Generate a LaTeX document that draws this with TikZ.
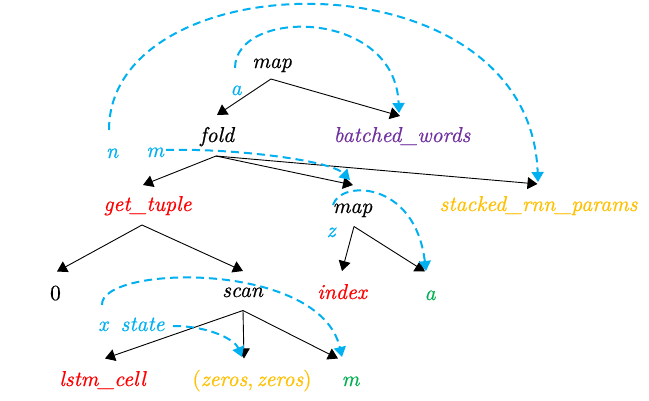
\documentclass[tikz,border=0pt]{standalone}
\usepackage{fontspec}
\newfontfamily\lblfont{lmroman10-italic.otf}[FakeBold=0.6]
\newfontfamily\lblup{lmroman10-regular.otf}[FakeBold=0.6]
\usetikzlibrary{arrows.meta}
\definecolor{cyn}{RGB}{0,176,240}
\definecolor{rd}{RGB}{255,0,0}
\definecolor{pur}{RGB}{112,48,160}
\definecolor{yel}{RGB}{255,192,0}
\definecolor{grn}{RGB}{0,176,80}
\tikzset{
  lbl/.style={anchor=base, inner sep=0pt, font=\lblfont\fontsize{21.5}{26}\selectfont},
  edge/.style={-{Triangle[length=10pt,width=12pt]}, line width=0.9pt, black},
  flow/.style={-{Triangle[length=10pt,width=12pt]}, line width=2pt, cyn, dash pattern=on 8pt off 5pt},
}
\begin{document}
\begin{tikzpicture}[x=1pt,y=-1pt]
\useasboundingbox (0,0) rectangle (649,400);
% labels
\node[lbl] (map1) at (272,68) {map};
\node[lbl] (fold) at (217,142) {fold};
\node[lbl,text=pur] (batched) at (402,142) {batched\_words};
\node[lbl,text=cyn] (la) at (236,95) {a};
\node[lbl,text=cyn] (ln) at (112,158) {n};
\node[lbl,text=cyn] (lm) at (155,157) {m};
\node[lbl,text=rd] (gettuple) at (147.5,211) {get\_tuple};
\node[lbl,text=yel] (stacked) at (538.5,211) {stacked\_rnn\_params};
\node[lbl] (map2) at (352.5,213) {map};
\node[lbl,text=cyn] (lz) at (331,237) {z};
\node[lbl] (zero) at (55.5,300) {\lblup 0};
\node[lbl] (scan) at (242.5,297) {scan};
\node[lbl,text=rd] (index) at (342,299) {index};
\node[lbl,text=grn] (a2) at (430,300) {a};
\node[lbl,text=cyn] (lx) at (103,331) {x};
\node[lbl,text=cyn] (lstate) at (142.5,331) {state};
\node[lbl,text=rd] (lstm) at (102.5,386) {lstm\_cell};
\node[lbl,text=yel] (zeros) at (252,386) {{\lblup(}zeros{\lblup,}\,zeros{\lblup)}};
\node[lbl,text=grn] (m2) at (350.5,386) {m};
% junction and tip coordinates
\coordinate (mapJ) at (271,79);
\coordinate (foldT) at (217,115);
\coordinate (batT) at (400,116);
\coordinate (foldJ) at (216,156);
\coordinate (gtT) at (143,185);
\coordinate (map2T) at (353,185);
\coordinate (stT) at (537.5,184);
\coordinate (gtJ) at (142,225);
\coordinate (zeroT) at (57,271.5);
\coordinate (scanT) at (243,271);
\coordinate (map2J) at (354,226.5);
\coordinate (indexT) at (342,271);
\coordinate (a2T) at (425,271.5);
\coordinate (scanJ) at (243,310.5);
\coordinate (lstmT) at (105,358.5);
\coordinate (zerosT) at (244,358.5);
\coordinate (m2T) at (338,358.5);
% tree edges
\draw[edge] (mapJ) -- (foldT);
\draw[edge] (mapJ) -- (batT);
\draw[edge] (foldJ) -- (gtT);
\draw[edge] (foldJ) -- (map2T);
\draw[edge] (foldJ) -- (stT);
\draw[edge] (gtJ) -- (zeroT);
\draw[edge] (gtJ) -- (scanT);
\draw[edge] (map2J) -- (indexT);
\draw[edge] (map2J) -- (a2T);
\draw[edge] (scanJ) -- (lstmT);
\draw[edge] (scanJ) -- (zerosT);
\draw[edge] (scanJ) -- (m2T);
% data flow
\coordinate (fa) at (235,68);
\coordinate (fn) at (109,130);
\coordinate (fm) at (166,150);
\coordinate (fz) at (333,205);
\coordinate (fx) at (102,305);
\coordinate (fs) at (173,326);
\draw[flow] (fa) .. controls (235,8) and (395,8) .. (399,113);
\draw[flow] (fn) .. controls (109,-40) and (530,-50) .. (538,182);
\draw[flow] (fm) .. controls (230,148) and (330,160) .. (350,180);
\draw[flow] (fz) .. controls (340,180) and (415,180) .. (426,271);
\draw[flow] (fx) .. controls (100,265) and (320,260) .. (342,357);
\draw[flow] (fs) .. controls (210,326) and (235,340) .. (242,357);
\end{tikzpicture}
\end{document}
